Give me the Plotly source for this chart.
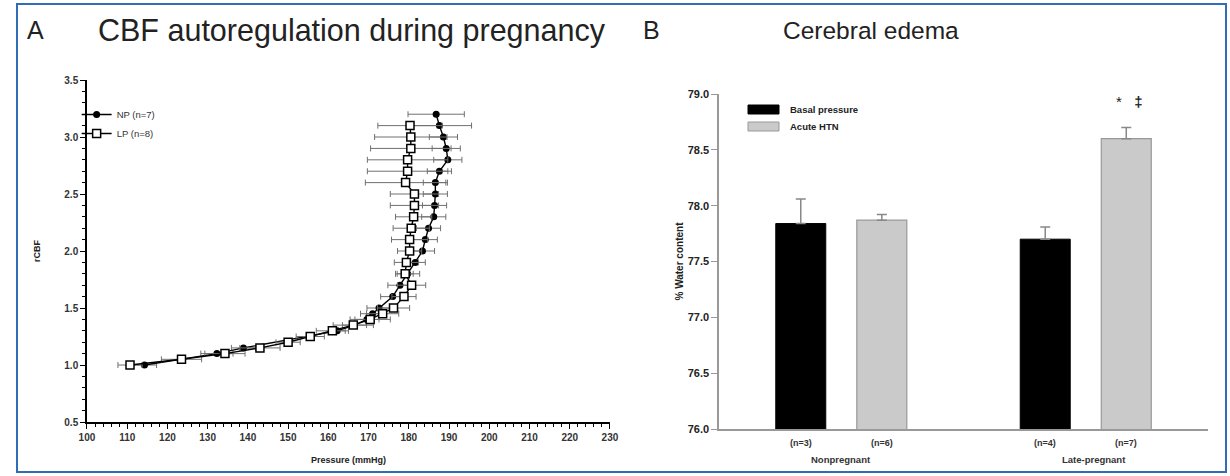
import plotly.graph_objects as go

# ---------------- Panel A: CBF autoregulation ----------------
np_rcbf = [1.0, 1.1, 1.15, 1.3, 1.35, 1.4, 1.45, 1.5, 1.6, 1.7, 1.8, 1.9, 2.0,
           2.1, 2.2, 2.3, 2.4, 2.5, 2.6, 2.7, 2.8, 2.9, 3.0, 3.1, 3.2]
np_pressure = [114.3, 132.3, 138.9, 162.2, 166.5, 169.6, 171.0, 172.6, 176.0, 177.8,
               179.7, 181.6, 183.4, 184.1, 184.9, 186.2, 186.4, 186.6, 186.6, 187.6,
               189.7, 189.3, 188.6, 187.6, 186.8]
np_sem = [3, 4, 3, 2, 3, 3, 3, 3, 3, 3, 3, 2.5, 3, 3, 3, 3, 3, 3, 3, 3,
          3.5, 3.5, 3.5, 8, 7]

lp_rcbf = [1.0, 1.05, 1.1, 1.15, 1.2, 1.25, 1.3, 1.35, 1.4, 1.45, 1.5,
           1.6, 1.7, 1.8, 1.9, 2.0, 2.1, 2.2, 2.3, 2.4, 2.5, 2.6, 2.7, 2.8,
           2.9, 3.0, 3.1]
lp_pressure = [110.7, 123.5, 134.3, 143.0, 150.0, 155.5, 161.0, 166.2, 170.4, 173.5,
               176.2, 178.8, 180.7, 179.1, 179.4, 180.2, 180.2, 180.6, 181.2, 181.4,
               181.4, 179.2, 179.7, 179.7, 180.5, 180.5, 180.3]
lp_sem = [3, 5, 5, 5, 3, 3.5, 4, 5, 5, 4, 4, 3, 3.5, 2, 3, 3, 4.5, 4.5, 4.5,
          6, 6, 10, 10, 10, 10, 9, 8]

# ---------------- Panel B: cerebral edema ----------------
groups = ["Nonpregnant", "Late-pregnant"]
basal_water = [77.84, 77.70]
basal_sem = [0.22, 0.11]
basal_n = ["(n=3)", "(n=4)"]
htn_water = [77.87, 78.60]
htn_sem = [0.05, 0.10]
htn_n = ["(n=6)", "(n=7)"]

FONT = "Liberation Sans, Arial, sans-serif"
fig = go.Figure()

fig.add_trace(go.Scatter(
    x=np_pressure, y=np_rcbf, name="NP (n=7)", mode="lines+markers",
    line=dict(color="black", width=1.4),
    marker=dict(symbol="circle", size=7, color="black"),
    error_x=dict(type="data", array=np_sem, color="#707070", thickness=1, width=3),
    xaxis="x", yaxis="y", legend="legend"))
fig.add_trace(go.Scatter(
    x=lp_pressure, y=lp_rcbf, name="LP (n=8)", mode="lines+markers",
    line=dict(color="black", width=1.4),
    marker=dict(symbol="square", size=8, color="white",
                line=dict(color="black", width=1.5)),
    error_x=dict(type="data", array=lp_sem, color="#707070", thickness=1, width=3),
    xaxis="x", yaxis="y", legend="legend"))

fig.add_trace(go.Bar(
    x=groups, y=basal_water, name="Basal pressure",
    marker=dict(color="black", line=dict(color="black", width=1)),
    error_y=dict(type="data", symmetric=False, array=basal_sem,
                 arrayminus=[0, 0], color="#888888", thickness=1.5, width=5),
    xaxis="x2", yaxis="y2", showlegend=False))
fig.add_trace(go.Bar(
    x=groups, y=htn_water, name="Acute HTN",
    marker=dict(color="#cacaca", line=dict(color="#999999", width=1.2)),
    error_y=dict(type="data", symmetric=False, array=htn_sem,
                 arrayminus=[0, 0], color="#888888", thickness=1.5, width=5),
    xaxis="x2", yaxis="y2", showlegend=False))

axis_font = dict(family=FONT, size=10, color="#333333", weight="bold")

fig.update_layout(
    width=1230, height=476,
    margin=dict(l=0, r=0, t=0, b=0, pad=0, autoexpand=False),
    paper_bgcolor="white", plot_bgcolor="white",
    font=dict(family=FONT, color="#222222"),
    barmode="group", bargap=0.337, bargroupgap=0.383,
    xaxis=dict(domain=[0.0707, 0.4959], range=[100, 230], dtick=10,
               showline=True, linecolor="black", linewidth=1.5,
               ticks="outside", ticklen=5, tickwidth=1.2, tickcolor="black",
               minor=dict(dtick=2, ticks="outside", ticklen=3, tickcolor="black"),
               showgrid=False, zeroline=False, tickfont=axis_font,
               title=dict(text="<b>Pressure (mmHg)</b>", standoff=15,
                          font=dict(family=FONT, size=9, color="#222222")),
               anchor="y"),
    yaxis=dict(domain=[0.1134, 0.8319], range=[0.5, 3.5], dtick=0.5,
               tickformat=".1f",
               showline=True, linecolor="black", linewidth=1.5,
               ticks="outside", ticklen=5, tickwidth=1.2, tickcolor="black",
               minor=dict(dtick=0.1, ticks="outside", ticklen=3, tickcolor="black"),
               showgrid=False, zeroline=False, tickfont=axis_font,
               title=dict(text="<b>rCBF</b>", standoff=22,
                          font=dict(family=FONT, size=9, color="#222222")),
               anchor="x"),
    xaxis2=dict(domain=[0.5846, 0.9821], range=[-0.5, 1.5],
                showline=True, linecolor="#999999", linewidth=1.5,
                showticklabels=False, ticks="", showgrid=False, zeroline=False,
                anchor="y2"),
    yaxis2=dict(domain=[0.0987, 0.8025], range=[76, 79], dtick=0.5,
                tickformat=".1f",
                showline=True, linecolor="#999999", linewidth=1.5,
                ticks="outside", ticklen=6, tickwidth=1.2, tickcolor="#999999",
                showgrid=False, zeroline=False,
                tickfont=dict(family=FONT, size=11, color="#222222", weight="bold"),
                title=dict(text="<b>% Water content</b>", standoff=2,
                           font=dict(family=FONT, size=10, color="#222222")),
                anchor="x2"),
    legend=dict(x=0.0623, y=0.79, xanchor="left", yanchor="top",
                bgcolor="rgba(0,0,0,0)", itemwidth=30, tracegroupgap=0,
                font=dict(family=FONT, size=9.5, color="#333333")),
)

annotations = [
    dict(text="A", x=35, y=30, font=dict(size=25)),
    dict(text="CBF autoregulation during pregnancy", x=352, y=30, font=dict(size=30.5)),
    dict(text="B", x=652, y=30, font=dict(size=25)),
    dict(text="Cerebral edema", x=871, y=30, font=dict(size=24.5)),
    dict(text="<b>Basal pressure</b>", x=788, y=109.5, xanchor="left", font=dict(size=9.5)),
    dict(text="<b>Acute HTN</b>", x=788, y=126.5, xanchor="left", font=dict(size=9.5)),
]
for a in annotations:
    fig.add_annotation(
        text=a["text"], xref="paper", yref="paper",
        x=a["x"] / 1230, y=1 - a["y"] / 476,
        xanchor=a.get("xanchor", "center"), yanchor="middle", showarrow=False,
        font=dict(family=FONT, color="#222222", size=a["font"]["size"]))

# sample-size labels under each bar and group names under each pair
for g, nb, nh in zip(groups, basal_n, htn_n):
    for txt, shift in ((nb, -40.5), (nh, 40.5)):
        fig.add_annotation(text=f"<b>{txt}</b>", xref="x2", yref="paper", x=g,
                           y=1 - 443 / 476, xshift=shift, yanchor="middle",
                           showarrow=False,
                           font=dict(family=FONT, size=9, color="#333333"))
    fig.add_annotation(text=f"<b>{g}</b>", xref="x2", yref="paper", x=g,
                       y=1 - 459 / 476, xshift=8 if g == "Late-pregnant" else 0,
                       yanchor="middle", showarrow=False,
                       font=dict(family=FONT, size=9.5, color="#333333"))

# significance marks above the late-pregnant acute HTN bar
fig.add_annotation(text="*   <b>\u2021</b>", xref="x2", yref="y2", x=groups[1],
                   y=htn_water[1] + htn_sem[1], xshift=44, yshift=26,
                   showarrow=False, yanchor="middle",
                   font=dict(family=FONT, size=15, color="#222222"))

# legend swatches for panel B
for y0, col, edge in ((105, "black", "black"), (122, "#cacaca", "#999999")):
    fig.add_shape(type="rect", xref="paper", yref="paper",
                  x0=748 / 1230, x1=779 / 1230, y0=1 - (y0 + 9) / 476, y1=1 - y0 / 476,
                  fillcolor=col, line=dict(color=edge, width=1))

# outer frame
fig.add_shape(type="rect", xref="paper", yref="paper",
              x0=17 / 1230, x1=1226 / 1230, y0=1 - 472 / 476, y1=1 - 4 / 476,
              line=dict(color="#2f6db5", width=2), layer="below")

fig.write_html("out.html",
               post_script="document.body.style.margin='0';"
                           "document.body.style.overflow='hidden';")
